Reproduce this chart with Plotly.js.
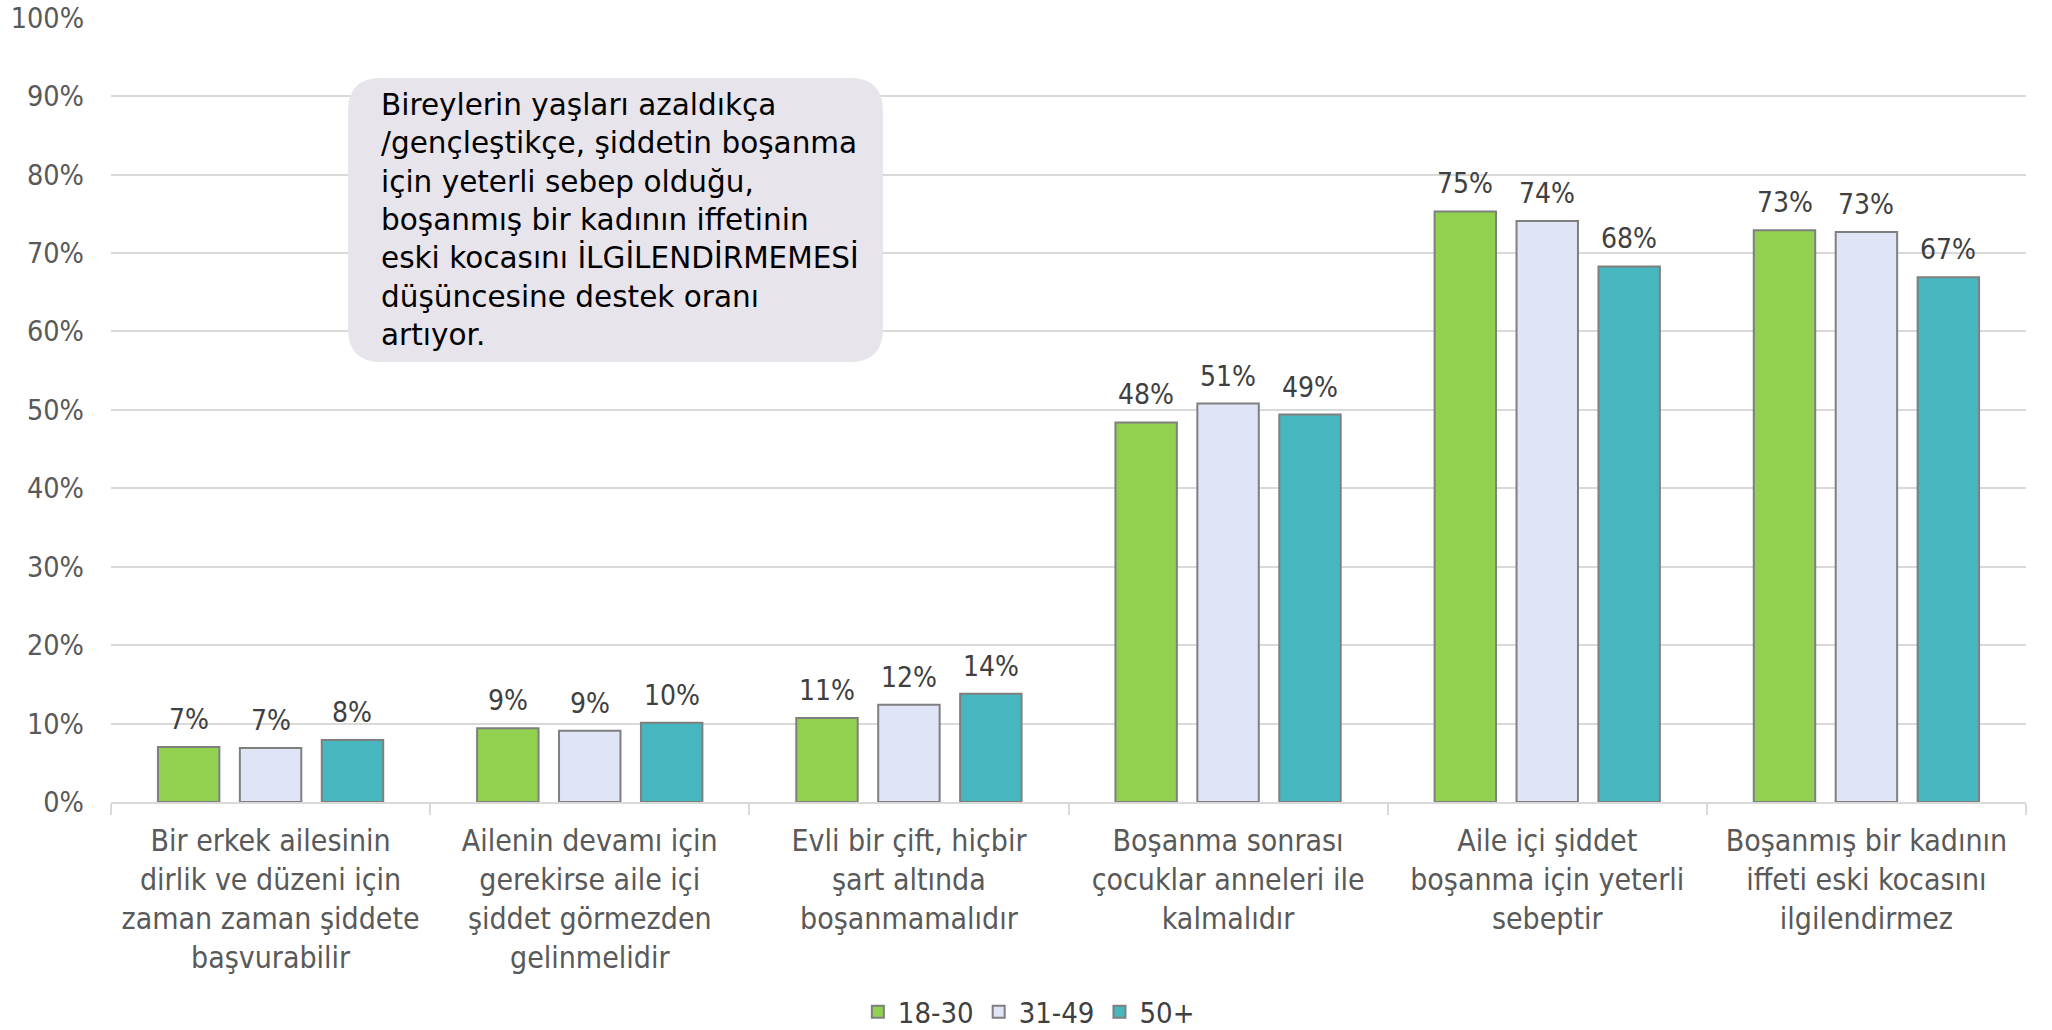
<!DOCTYPE html>
<html>
<head>
<meta charset="utf-8">
<script src="https://cdn.plot.ly/plotly-3.0.1.min.js"></script>
<style>html,body{margin:0;padding:0;background:#fff;}#chart{width:2052px;height:1030px;}</style>
</head>
<body>
<div id="chart"></div>
<script>
// ---- data ----
const categories = [
  "Bir erkek ailesinin<br>dirlik ve düzeni için<br>zaman zaman şiddete<br>başvurabilir",
  "Ailenin devamı için<br>gerekirse aile içi<br>şiddet görmezden<br>gelinmelidir",
  "Evli bir çift, hiçbir<br>şart altında<br>boşanmamalıdır",
  "Boşanma sonrası<br>çocuklar anneleri ile<br>kalmalıdır",
  "Aile içi şiddet<br>boşanma için yeterli<br>sebeptir",
  "Boşanmış bir kadının<br>iffeti eski kocasını<br>ilgilendirmez"
];
const seriesNames = ["18-30", "31-49", "50+"];
const age18_30 = [7.0, 9.4, 10.7, 48.4, 75.3, 72.9];
const age31_49 = [6.9, 9.1, 12.4, 50.8, 74.1, 72.7];
const age50plus = [7.9, 10.1, 13.8, 49.4, 68.3, 66.9];
const yTickVals = [0, 10, 20, 30, 40, 50, 60, 70, 80, 90, 100];
const yTickText = ["0%", "10%", "20%", "30%", "40%", "50%", "60%", "70%", "80%", "90%", "100%"];
const noteLines = [
  "Bireylerin yaşları azaldıkça",
  "/gençleştikçe, şiddetin boşanma",
  "için yeterli sebep olduğu,",
  "boşanmış bir kadının iffetinin",
  "eski kocasını İLGİLENDİRMEMESİ",
  "düşüncesine destek oranı",
  "artıyor."
];

// ---- styles ----
const colors = ["#92D050", "#DFE5F6", "#46B7BE"];
const seriesValues = [age18_30, age31_49, age50plus];
const condFont = "DejaVu Sans Condensed, DejaVu Sans, sans-serif";

const traces = seriesValues.map((vals, i) => ({
  type: "bar",
  name: seriesNames[i],
  x: categories,
  y: vals,
  marker: { color: colors[i], line: { color: "#7F7F7F", width: 2 } },
  hoverinfo: "skip"
}));

// data labels through axis coordinates
const slotPx = 81.9;
const annotations = [];
seriesValues.forEach((vals, i) => {
  vals.forEach((v, j) => {
    annotations.push({
      x: categories[j], y: v, xref: "x", yref: "y",
      text: Math.round(v) + "%",
      showarrow: false, xanchor: "center", yanchor: "bottom",
      xshift: (i - 1) * slotPx, yshift: 9,
      font: { family: condFont, size: 28, color: "#404040" }
    });
  });
});

// note box
const bx0 = 0.1238, bx1 = 0.4031, by0 = 0.5605, by1 = 0.9223;
const rx = 0.0172, ry = 0.042;
const boxPath = `M ${bx0 + rx} ${by1} L ${bx1 - rx} ${by1} Q ${bx1} ${by1} ${bx1} ${by1 - ry} ` +
  `L ${bx1} ${by0 + ry} Q ${bx1} ${by0} ${bx1 - rx} ${by0} L ${bx0 + rx} ${by0} ` +
  `Q ${bx0} ${by0} ${bx0} ${by0 + ry} L ${bx0} ${by1 - ry} Q ${bx0} ${by1} ${bx0 + rx} ${by1} Z`;

annotations.push({
  xref: "paper", yref: "paper", x: 0.1402, y: 0.741,
  xanchor: "left", yanchor: "middle", align: "left",
  text: noteLines.join("<br>"), showarrow: false,
  font: { family: "DejaVu Sans, sans-serif", size: 29.5, color: "#000000" }
});

const layout = {
  width: 2052, height: 1030,
  margin: { l: 111, r: 26, t: 17, b: 228, autoexpand: false },
  paper_bgcolor: "#ffffff", plot_bgcolor: "#ffffff",
  barmode: "group", bargap: 0.23, bargroupgap: 0.25,
  showlegend: true,
  legend: {
    orientation: "h", x: 0.39, xanchor: "left", y: -0.2675, yanchor: "middle",
    font: { family: condFont, size: 29, color: "#404040" },
    traceorder: "normal"
  },
  xaxis: {
    type: "category", automargin: false,
    showline: true, linecolor: "#D9D9D9", linewidth: 2,
    ticks: "outside", tickson: "boundaries", ticklen: 11, tickwidth: 2, tickcolor: "#D9D9D9",
    ticklabelstandoff: 11,
    tickfont: { family: condFont, size: 30, color: "#595959" },
    showgrid: false, zeroline: false, fixedrange: true
  },
  yaxis: {
    range: [0, 100.1], tickvals: yTickVals, ticktext: yTickText, automargin: false,
    showgrid: true, gridcolor: "#D9D9D9", gridwidth: 2,
    showline: false, zeroline: false, ticks: "",
    ticklabelstandoff: 26,
    tickfont: { family: condFont, size: 28.5, color: "#595959" },
    fixedrange: true
  },
  shapes: [{
    type: "path", xref: "paper", yref: "paper", path: boxPath,
    fillcolor: "#E8E4EB", line: { width: 0 }, layer: "above"
  }],
  annotations: annotations
};

Plotly.newPlot("chart", traces, layout, { displayModeBar: false, staticPlot: true });
</script>
</body>
</html>
